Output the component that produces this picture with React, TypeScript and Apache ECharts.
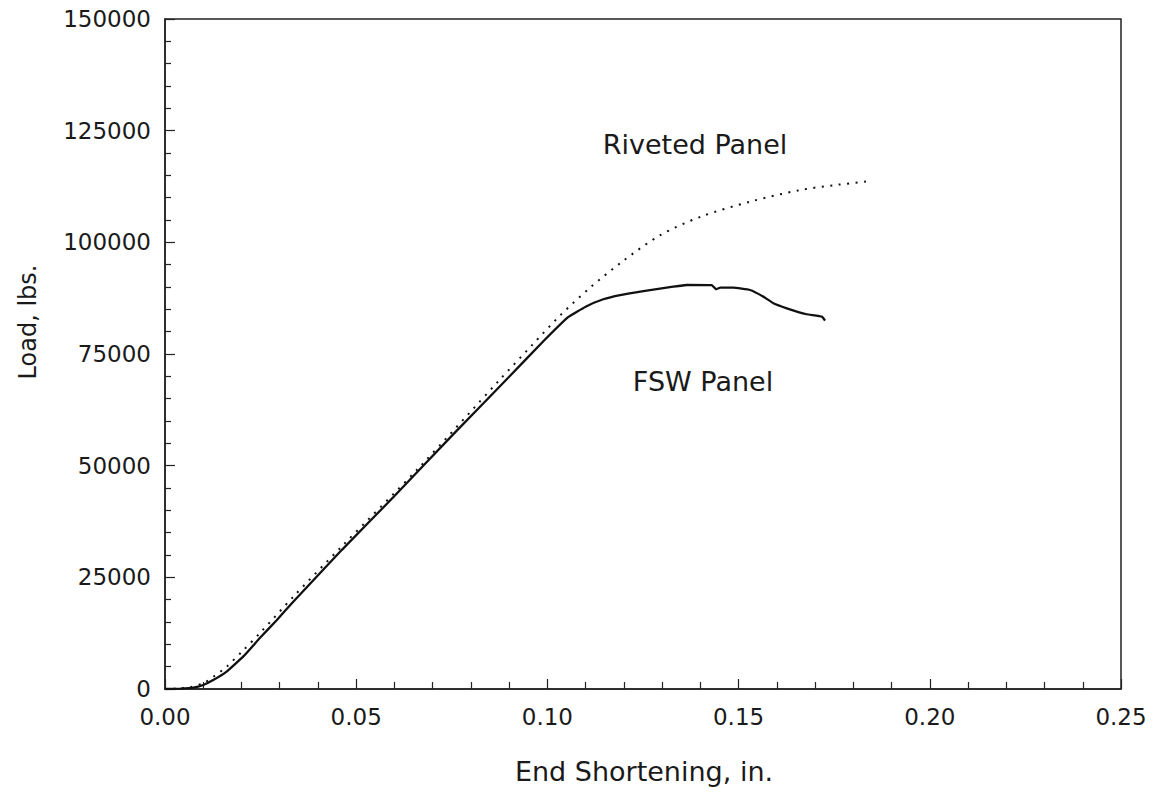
import React, { useEffect, useRef } from "react";
import * as echarts from "echarts";

// End shortening (in.) and load (lbs.) for the friction-stir-welded panel
const fswShortening = [
  0, 0.004, 0.0074, 0.01, 0.0126, 0.0161, 0.0205, 0.0248, 0.0292, 0.0336,
  0.0462, 0.06, 0.0758, 0.09, 0.099, 0.1055, 0.11, 0.1146, 0.119, 0.1251,
  0.1329, 0.1364, 0.143, 0.1441, 0.1452, 0.1486, 0.153, 0.1565, 0.1591,
  0.1626, 0.1678, 0.1718, 0.1726,
];
const fswLoad = [
  0, 100, 300, 900, 2000, 3900, 7300, 11400, 15400, 19600,
  31100, 43200, 57400, 69900, 77900, 83300, 85600, 87250, 88200, 89100,
  90070, 90450, 90400, 89500, 89850, 89850, 89330, 87830, 86350,
  85230, 83900, 83350, 82450,
];

// End shortening (in.) and load (lbs.) for the riveted panel
const rivetedShortening = [
  0, 0.004, 0.0065, 0.01, 0.0126, 0.0161, 0.0205, 0.0248, 0.0336, 0.0462,
  0.0667, 0.0876, 0.096, 0.1033, 0.1111, 0.1199, 0.1295, 0.14, 0.153,
  0.1661, 0.175, 0.1844,
];
const rivetedLoad = [
  0, 150, 400, 1300, 2700, 5000, 8700, 12500, 20700, 31900,
  49800, 69300, 77000, 83600, 89800, 95900, 101600, 105700, 109100,
  111700, 112800, 113700,
];

const xTicks = { min: 0, max: 0.25, step: 0.05 };
const yTicks = { min: 0, max: 150000, step: 25000 };

const FONT = "DejaVu Sans";
const INK = "#222";

export default function App() {
  const ref = useRef<HTMLDivElement>(null);

  useEffect(() => {
    if (!ref.current) return;
    const chart = echarts.init(ref.current, null, { renderer: "svg" });

    const fsw = fswShortening.map((x, i) => [x, fswLoad[i]]);
    const riveted = rivetedShortening.map((x, i) => [x, rivetedLoad[i]]);

    chart.setOption({
      animation: false,
      backgroundColor: "#fff",
      grid: {
        left: 165,
        right: 35,
        top: 19,
        bottom: 110,
        show: true,
        borderColor: INK,
        borderWidth: 1.5,
      },
      xAxis: {
        type: "value",
        min: xTicks.min,
        max: xTicks.max,
        interval: xTicks.step,
        axisLine: { show: true, lineStyle: { color: INK, width: 1.5 } },
        axisTick: { show: true, inside: true, length: 10, lineStyle: { color: INK, width: 1.2 } },
        minorTick: { show: true, splitNumber: 5, length: 7, lineStyle: { color: INK, width: 1.2 } },
        splitLine: { show: false },
        axisLabel: {
          margin: 16,
          fontFamily: FONT,
          fontSize: 23,
          color: "#1a1a1a",
          formatter: (v: number) => v.toFixed(2),
        },
      },
      yAxis: {
        type: "value",
        min: yTicks.min,
        max: yTicks.max,
        interval: yTicks.step,
        axisLine: { show: true, lineStyle: { color: INK, width: 1.5 } },
        axisTick: { show: true, inside: true, length: 10, lineStyle: { color: INK, width: 1.2 } },
        minorTick: { show: true, splitNumber: 5, length: 6, lineStyle: { color: INK, width: 1.2 } },
        splitLine: { show: false },
        axisLabel: {
          margin: 14,
          fontFamily: FONT,
          fontSize: 23,
          color: "#1a1a1a",
          formatter: (v: number) => String(v),
        },
      },
      series: [
        {
          name: "Riveted Panel",
          type: "line",
          data: riveted,
          symbol: "none",
          smooth: 0.3,
          lineStyle: { color: "#111", width: 2, type: [2, 6.5], cap: "butt" },
          z: 3,
        },
        {
          name: "FSW Panel",
          type: "line",
          data: fsw,
          symbol: "none",
          smooth: 0.1,
          lineStyle: { color: "#111", width: 2.3 },
          z: 4,
        },
      ],
      graphic: [
        {
          type: "text",
          x: 644,
          y: 771,
          style: {
            text: "End Shortening, in.",
            font: `27px "${FONT}"`,
            fill: "#1a1a1a",
            align: "center",
            verticalAlign: "middle",
          },
        },
        {
          type: "text",
          x: 28,
          y: 322,
          rotation: Math.PI / 2,
          style: {
            text: "Load, lbs.",
            font: `24px "${FONT}"`,
            fill: "#1a1a1a",
            align: "center",
            verticalAlign: "middle",
          },
        },
        {
          type: "text",
          x: 695,
          y: 144,
          style: {
            text: "Riveted Panel",
            font: `27px "${FONT}"`,
            fill: "#1a1a1a",
            align: "center",
            verticalAlign: "middle",
          },
        },
        {
          type: "text",
          x: 703,
          y: 381,
          style: {
            text: "FSW Panel",
            font: `27px "${FONT}"`,
            fill: "#1a1a1a",
            align: "center",
            verticalAlign: "middle",
          },
        },
      ],
    });

    return () => chart.dispose();
  }, []);

  return (
    <div
      ref={ref}
      style={{ position: "fixed", left: 0, top: 0, width: 1156, height: 799 }}
    />
  );
}
